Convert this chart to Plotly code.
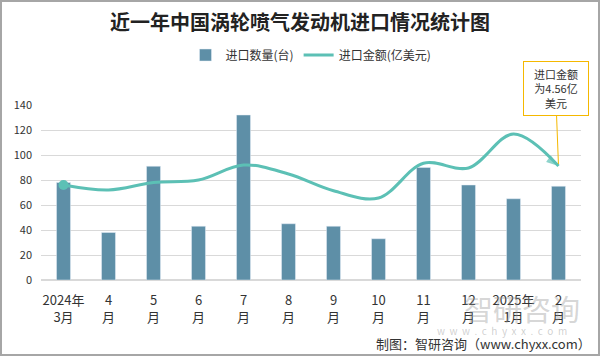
import plotly.graph_objects as go

categories = ["2024年<br>3月", "4<br>月", "5<br>月", "6<br>月", "7<br>月", "8<br>月", "9<br>月",
              "10<br>月", "11<br>月", "12<br>月", "2025年<br>1月", "2<br>月"]
quantity = [78, 38, 91, 43, 132, 45, 43, 33, 90, 76, 65, 75]
amount = [3.80, 3.60, 3.90, 4.00, 4.60, 4.24, 3.57, 3.28, 4.67, 4.48, 5.84, 4.56]
y_ticks = [0, 20, 40, 60, 80, 100, 120, 140]

BAR = "#5E8FA7"
LINE = "#5CC0B5"
FONT = "Noto Sans CJK SC"

fig = go.Figure()
fig.add_trace(go.Bar(x=categories, y=quantity, name="进口数量(台)", marker_color=BAR, yaxis="y"))

n = len(amount)
sizes = [0] * (n - 1) + [13]
fig.add_trace(go.Scatter(
    x=categories, y=amount, name="进口金额(亿美元)", yaxis="y2",
    mode="lines+markers", line=dict(color=LINE, width=3, shape="spline", smoothing=1.0),
    marker=dict(color=LINE, size=sizes, symbol="arrow", angleref="previous", line=dict(width=0)),
))
fig.add_trace(go.Scatter(
    x=categories[:1], y=amount[:1], yaxis="y2", mode="markers", showlegend=False,
    marker=dict(color=LINE, size=10, symbol="circle"),
))

L, R, T, B = 41, 19, 105, 76
W, H = 600, 356
pw, ph = W - L - R, H - T - B

fig.update_layout(
    width=W, height=H, margin=dict(l=L, r=R, t=T, b=B),
    paper_bgcolor="white", plot_bgcolor="white",
    font=dict(family=FONT, color="#333333", size=12),
    title=dict(text="<b>近一年中国涡轮喷气发动机进口情况统计图</b>", x=0.5, xanchor="center",
               y=1 - 23 / H, yanchor="middle", font=dict(size=20, color="#222222", family=FONT)),
    bargap=0.69,
    showlegend=True,
    legend=dict(orientation="h", x=0.5, xanchor="center", y=1 + 50 / ph, yanchor="middle",
                font=dict(size=12, color="#333333"), itemwidth=30),
    xaxis=dict(tickmode="array", tickvals=categories, ticktext=categories, showgrid=False,
               range=[-0.5, len(categories) - 0.5], ticklabelstandoff=11,
               showline=False, ticks="", tickfont=dict(size=13, color="#333333"), tickangle=0,
               automargin=False, fixedrange=True),
    yaxis=dict(range=[0, 140], tickvals=y_ticks, showgrid=True, gridcolor="#D9D9D9", gridwidth=1,
               zeroline=True, zerolinecolor="#D9D9D9", showline=False, ticks="", automargin=False,
               ticklabelstandoff=8, tickfont=dict(size=11, color="#333333")),
    yaxis2=dict(range=[0, 7], overlaying="y", side="right", visible=False, showgrid=False,
                automargin=False),
)

# chart border
fig.add_shape(type="rect", xref="paper", yref="paper",
              x0=-(L - 1) / pw, x1=1 + (R - 1) / pw, y0=-(B - 1) / ph, y1=1 + (T - 1) / ph,
              line=dict(color="#A6A6A6", width=2), fillcolor="rgba(0,0,0,0)", layer="below")

# callout
fig.add_annotation(x=categories[-1], y=amount[-1], xref="x", yref="y2",
                   text="进口金额<br>为4.56亿<br>美元", showarrow=True, arrowhead=0, arrowwidth=1,
                   arrowcolor="#F5B800", ax=-3, ay=-78, standoff=2,
                   bordercolor="#F5B800", borderwidth=1, borderpad=4, bgcolor="white",
                   font=dict(size=11, color="#333333"), align="center", width=56)

# watermark
fig.add_annotation(xref="paper", yref="paper", x=(522 - L) / pw, xanchor="center",
                   y=-(308 - H + B) / ph, yanchor="middle",
                   text="智研咨询", showarrow=False, font=dict(size=29, color="rgba(150,150,150,0.4)"))
fig.add_annotation(xref="paper", yref="paper", x=(502 - L) / pw, xanchor="center",
                   y=-(330 - H + B) / ph, yanchor="middle",
                   text="w  w  w  .  c  h  y  x  x  .  c  o  m", showarrow=False,
                   font=dict(size=10, color="rgba(150,150,150,0.45)"))
# footer
fig.add_annotation(xref="paper", yref="paper", x=1 + 12 / pw, xanchor="right", y=-(343 - H + B) / ph,
                   yanchor="middle", text="制图：智研咨询（www.chyxx.com）", showarrow=False,
                   font=dict(size=13, color="#333333"))

fig.write_html("out.html", config={"displayModeBar": False},
               post_script="document.body.style.margin='0';document.body.style.overflow='hidden';")
